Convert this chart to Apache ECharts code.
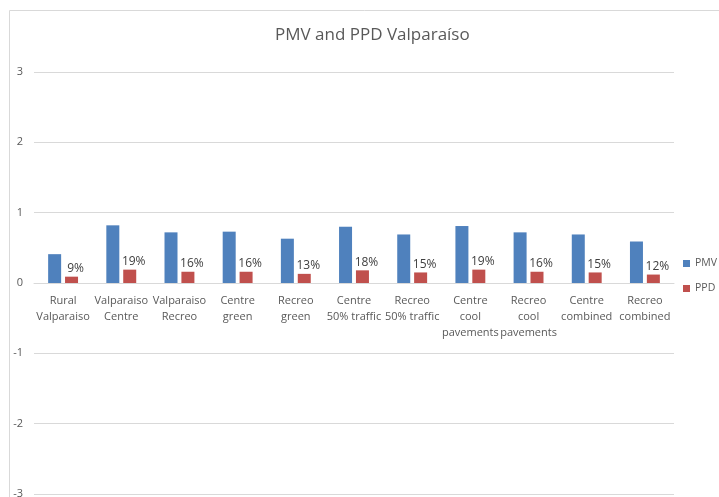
<!DOCTYPE html>
<html>
<head>
  <meta charset="utf-8">
  <title>PMV and PPD Valparaíso</title>
  <script src="https://cdn.jsdelivr.net/npm/echarts@6/dist/echarts.min.js"></script>
  <style>
    html, body { margin: 0; padding: 0; background: #fff; }
    #main { width: 719px; height: 497px; }
  </style>
</head>
<body>
<div id="main"></div>
<script type="text/javascript">
  var categories = [
    'Rural\nValparaiso', 'Valparaiso\nCentre', 'Valparaiso\nRecreo', 'Centre\ngreen',
    'Recreo\ngreen', 'Centre\n50% traffic', 'Recreo\n50% traffic', 'Centre\ncool\npavements',
    'Recreo\ncool\npavements', 'Centre\ncombined', 'Recreo\ncombined'
  ];
  var pmv = [0.41, 0.82, 0.72, 0.73, 0.63, 0.80, 0.69, 0.81, 0.72, 0.69, 0.59];
  var ppd = [0.09, 0.19, 0.16, 0.16, 0.13, 0.18, 0.15, 0.19, 0.16, 0.15, 0.12];

  var myChart = echarts.init(document.getElementById('main'));
  var font = '"Open Sans", "Liberation Sans", sans-serif';
  var gridTop = 72, gridHeight = 422;

  var option = {
    animation: false,
    title: {
      text: 'PMV and PPD Valparaíso',
      left: 270,
      top: 22,
      textStyle: { fontFamily: font, fontWeight: 'normal', fontSize: 17, color: '#595959' }
    },
    graphic: [{
      type: 'rect',
      shape: { x: 9.5, y: 10.5, width: 800, height: 600 },
      style: { fill: 'none', stroke: '#d9d9d9', lineWidth: 1 },
      silent: true
    }],
    legend: {
      orient: 'vertical',
      left: 683,
      top: 258,
      padding: 0,
      itemWidth: 7,
      itemHeight: 7,
      itemGap: 14,
      icon: 'rect',
      textStyle: { fontFamily: font, fontSize: 10.5, color: '#595959' },
      data: ['PMV', 'PPD']
    },
    grid: { left: 34, right: 45, top: gridTop, height: gridHeight, outerBoundsMode: 'none', containLabel: false },
    xAxis: {
      type: 'category',
      data: categories,
      // put the axis (line + labels) on the zero line, half way down the grid
      offset: -gridHeight / 2,
      axisLine: { onZero: false, lineStyle: { color: '#d9d9d9' } },
      axisTick: { show: false },
      axisLabel: {
        interval: 0,
        margin: 10,
        fontFamily: font,
        fontSize: 11,
        lineHeight: 16,
        color: '#595959'
      }
    },
    yAxis: {
      type: 'value',
      min: -3,
      max: 3,
      interval: 1,
      axisLine: { show: false },
      axisTick: { show: false },
      axisLabel: { fontFamily: font, fontSize: 11, color: '#595959', margin: 11 },
      splitLine: { lineStyle: { color: '#d9d9d9' } }
    },
    series: [
      {
        name: 'PMV',
        type: 'bar',
        data: pmv,
        barWidth: 13,
        barGap: '30%',
        itemStyle: { color: '#4f81bd' }
      },
      {
        name: 'PPD',
        type: 'bar',
        data: ppd,
        barWidth: 13,
        itemStyle: { color: '#c0504d' },
        label: {
          show: true,
          position: 'top',
          distance: 2,
          offset: [4, 0],
          fontFamily: font,
          fontSize: 12,
          color: '#404040',
          formatter: function (p) { return Math.round(p.value * 100) + '%'; }
        }
      }
    ]
  };
  myChart.setOption(option);
</script>
</body>
</html>
